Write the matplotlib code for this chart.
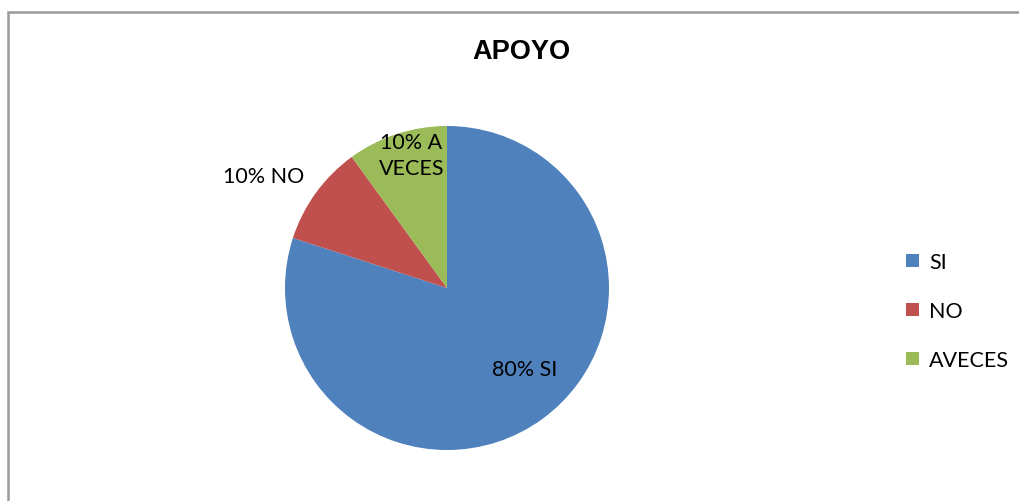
import matplotlib.pyplot as plt
from matplotlib.patches import Rectangle, Patch

labels = ['SI', 'NO', 'AVECES']
values = [80, 10, 10]
slice_labels = ['80% SI', '10% NO', '10% A\nVECES']
colors = ['#4F81BD', '#C0504D', '#9BBB59']

W, H = 1019, 502
fig = plt.figure(figsize=(W/100, H/100), dpi=100)
plt.rcParams['font.family'] = ['Lato', 'DejaVu Sans']

# chart frame
fig.patches.append(Rectangle((8/W, -0.1), 1.1, (H-13)/H + 0.1, transform=fig.transFigure,
                             fill=False, edgecolor='#9a9a9a', linewidth=1.8))

ax = fig.add_axes([285/W, 51/H, 324/W, 324/H])
wedges, _ = ax.pie(values, colors=colors, startangle=90, counterclock=False, radius=1.0)
ax.set_xlim(-1, 1)
ax.set_ylim(-1, 1)
ax.set_aspect('equal')
ax.axis('off')

# data labels
fs = 15.5
ax.text(0.48, -0.50, slice_labels[0], fontsize=fs, ha='center', va='center')
ax.text(-1.13, 0.69, slice_labels[1], fontsize=fs, ha='center', va='center')
ax.text(-0.22, 0.82, slice_labels[2], fontsize=fs, ha='center', va='center', linespacing=1.35)

fig.text(521/W, 1 - 52/H, 'APOYO', fontsize=19.5, fontweight='bold',
         fontfamily=['Liberation Sans'], ha='center', va='center')

handles = [Patch(facecolor=c, edgecolor='none') for c in colors]
fig.legend(handles, labels, loc='center left', bbox_to_anchor=(887/W, 1 - 312/H),
           frameon=False, fontsize=fs, handlelength=0.6, handleheight=0.6,
           labelspacing=1.35, handletextpad=0.45)

fig.savefig('out.png', dpi=100, facecolor='white')
